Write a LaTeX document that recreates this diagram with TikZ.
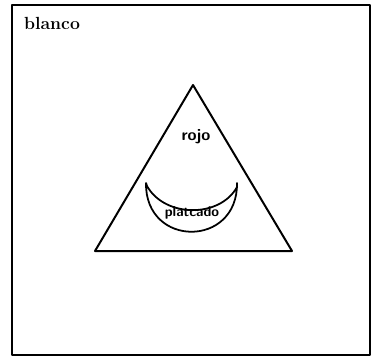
\documentclass[tikz,border=0pt]{standalone}
\usetikzlibrary{calc}

\begin{document}
\begin{tikzpicture}[x=0.03cm,y=-0.03cm,line cap=round,line join=round]
  \useasboundingbox (0,0) rectangle (377,359);
  \draw[line width=1.4pt] (12,5) rectangle (370,355);
  \node[anchor=west,font=\fontsize{15}{18}\selectfont\bfseries] (blanco) at (20,23) {blanco};
  % triangle
  \coordinate (apex) at (193,85);
  \coordinate (bl) at (95,251);
  \coordinate (br) at (292,251);
  \draw[line width=1.7pt] (apex) -- (bl) -- (br) -- cycle;
  \node[font=\fontsize{14}{16}\selectfont\sffamily\bfseries] (rojo) at (196,137) {rojo};
  % crescent
  \coordinate (lt) at (146,183);
  \coordinate (rt) at (237,183);
  \draw[line width=1.5pt] (lt) .. controls (145,248) and (238,248) .. (rt)
    -- (237,187) .. controls (220,218) and (165,218) .. (147,186) -- cycle;
  \node[font=\fontsize{12}{14}\selectfont\sffamily\bfseries] (platcado) at (192,213) {platcado};
\end{tikzpicture}
\end{document}
